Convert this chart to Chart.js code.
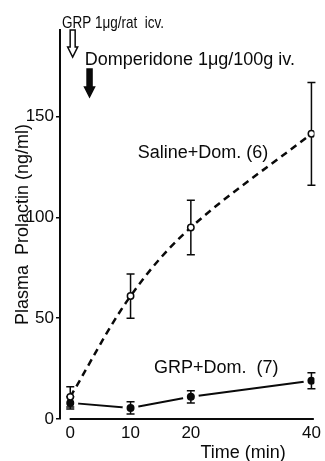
<!DOCTYPE html>
<html>
<head>
<meta charset="utf-8">
<script src="https://cdn.jsdelivr.net/npm/chart.js@4.4.0/dist/chart.umd.min.js"></script>
<style>
body { margin: 0; background: #fff; }
</style>
</head>
<body>
<canvas id="myChart" width="325" height="461"></canvas>
<script>
// values (ng/ml, mean and error)
var times = [0, 10, 20, 40];
var salineDom = [11, 61, 95, 141.5];
var salineErr = [5, 11, 13.5, 25.5];
var grpDom = [8, 5.5, 11, 19];
var grpErr = [3, 3, 3, 4];
var yTicks = [0, 50, 100, 150];
var xTicks = [0, 10, 20, 40];
var arrowTimes = [0.4, 3.2];

var FONT = "'Liberation Sans', Arial, sans-serif";
var INK = '#0a0a0a';

function pts(vals) {
    return times.map(function (t, i) { return {x: t, y: vals[i]}; });
}

// error bars, arrows, labels and the x axis line
var extras = {
    id: 'extras',
    afterDatasetDraw: function (chart, args) {
        if (args.index !== 2) return;
        var ctx = chart.ctx, xs = chart.scales.x, ys = chart.scales.y;
        ctx.save();
        ctx.strokeStyle = INK;
        ctx.lineWidth = 1.5;
        [[salineDom, salineErr], [grpDom, grpErr]].forEach(function (s) {
            for (var i = 0; i < times.length; i++) {
                var px = xs.getPixelForValue(times[i]);
                var top = ys.getPixelForValue(s[0][i] + s[1][i]);
                var bot = ys.getPixelForValue(s[0][i] - s[1][i]);
                ctx.beginPath();
                ctx.moveTo(px, top); ctx.lineTo(px, bot);
                ctx.moveTo(px - 4, top); ctx.lineTo(px + 4, top);
                ctx.moveTo(px - 4, bot); ctx.lineTo(px + 4, bot);
                ctx.stroke();
            }
        });
        ctx.restore();
    },
    afterDraw: function (chart) {
        var ctx = chart.ctx, xs = chart.scales.x, ys = chart.scales.y;
        var X = function (v) { return xs.getPixelForValue(v); };
        var Y = function (v) { return ys.getPixelForValue(v); };
        ctx.save();
        ctx.strokeStyle = INK;
        ctx.fillStyle = INK;

        // x axis
        ctx.lineWidth = 2;
        ctx.beginPath();
        ctx.moveTo(X(-0.1), chart.chartArea.bottom);
        ctx.lineTo(X(40.4), chart.chartArea.bottom);
        ctx.stroke();

        // arrows
        function arrow(t, v0, v1, filled) {
            var x = X(t), y0 = Y(v0), y1 = Y(v1), hl = 10;
            ctx.beginPath();
            ctx.moveTo(x - 2.5, y0);
            ctx.lineTo(x + 2.5, y0);
            ctx.lineTo(x + 2.5, y1 - hl);
            ctx.lineTo(x + 5, y1 - hl);
            ctx.lineTo(x, y1);
            ctx.lineTo(x - 5, y1 - hl);
            ctx.lineTo(x - 2.5, y1 - hl);
            ctx.closePath();
            if (filled) ctx.fill();
            ctx.lineWidth = 1.5;
            ctx.stroke();
        }
        arrow(arrowTimes[0], 193, 179.6, false);
        arrow(arrowTimes[1], 173.6, 159.8, true);

        // labels
        ctx.textBaseline = 'middle';
        ctx.textAlign = 'left';
        function label(txt, t, v, size, w) {
            ctx.font = size + 'px ' + FONT;
            ctx.fillText(txt, X(t), Y(v), w);
        }
        label('GRP 1\u03bcg/rat  icv.', -1.37, 196.5, 17, 102);
        label('Domperidone 1\u03bcg/100g iv.', 2.42, 178.1, 18, 216);
        label('Saline+Dom. (6)', 11.2, 132, 18, 136);
        label('GRP+Dom.  (7)', 13.9, 25.3, 18, 126);
        label('Time (min)', 21.6, -16.9, 18, 86);
        ctx.restore();
    }
};

var ctx = document.getElementById('myChart').getContext('2d');
var chart = new Chart(ctx, {
    type: 'line',
    data: {
        datasets: [
            {
                label: 'Saline + Dom. (6)',
                data: pts(salineDom),
                borderColor: INK,
                borderWidth: 2.5,
                borderDash: [7, 5],
                tension: 0.35,
                pointRadius: 3.2,
                pointBorderWidth: 1.5,
                pointBackgroundColor: '#fff',
                pointBorderColor: INK
            },
            {
                label: 'GRP + Dom. (7)',
                data: pts(grpDom),
                showLine: false,
                pointRadius: 4,
                pointBorderWidth: 0,
                pointBackgroundColor: INK
            },
            {
                label: 'GRP line',
                data: pts(grpDom),
                borderColor: INK,
                borderWidth: 2,
                tension: 0,
                pointRadius: 8,
                pointBorderWidth: 0,
                pointBackgroundColor: '#fff'
            }
        ]
    },
    options: {
        responsive: false,
        animation: false,
        devicePixelRatio: 1,
        layout: {padding: {top: 30, right: 9, left: 0, bottom: 0}},
        plugins: {legend: {display: false}, tooltip: {enabled: false}},
        scales: {
            x: {
                type: 'linear',
                min: -1.7,
                max: 40.5,
                afterFit: function (s) { s.height = 42; },
                afterBuildTicks: function (s) { s.ticks = xTicks.map(function (v) { return {value: v}; }); },
                border: {display: false},
                grid: {display: false, drawTicks: false},
                ticks: {color: INK, padding: 4, font: {family: FONT, size: 17}}
            },
            y: {
                type: 'linear',
                min: 0,
                max: 193,
                afterFit: function (s) { s.width = 60; },
                afterBuildTicks: function (s) { s.ticks = yTicks.map(function (v) { return {value: v}; }); },
                border: {display: true, color: INK, width: 2},
                grid: {display: true, drawOnChartArea: false, drawTicks: true, tickLength: 4, color: INK, lineWidth: 1.5},
                ticks: {color: INK, padding: 2, font: {family: FONT, size: 17}},
                title: {
                    display: true,
                    text: 'Plasma  Prolactin (ng/ml)',
                    color: INK,
                    font: {family: FONT, size: 18},
                    padding: {top: 12, bottom: 0}
                }
            }
        }
    },
    plugins: [extras]
});
</script>
</body>
</html>
